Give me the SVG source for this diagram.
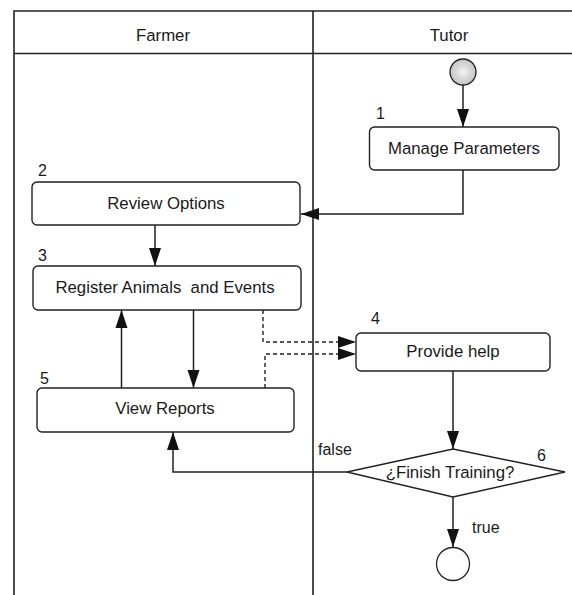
<svg xmlns="http://www.w3.org/2000/svg" width="572" height="595" viewBox="0 0 572 595">
  <style>
    .lane { fill: none; stroke: #222; stroke-width: 1.6; }
    .box { fill: #fff; stroke: #222; stroke-width: 1.4; }
    .edge { fill: none; stroke: #222; stroke-width: 1.5; }
    .dash { fill: none; stroke: #222; stroke-width: 1.4; stroke-dasharray: 4 3; }
    text { font-family: "Liberation Sans", Arial, sans-serif; fill: #1a1a1a; }
    .label { font-size: 16.8px; text-anchor: middle; white-space: pre; }
    .head { font-size: 16.8px; text-anchor: middle; }
    .num { font-size: 16px; }
    .guard { font-size: 16px; }
  </style>
  <defs>
    <marker id="arrow" viewBox="0 0 18 13" refX="18" refY="6.5" markerWidth="18" markerHeight="13" markerUnits="userSpaceOnUse" orient="auto">
      <path d="M0,0.5 L18,6.5 L0,12.5 Z" fill="#111"/>
    </marker>
    <radialGradient id="startFill" cx="0.5" cy="0.5" r="0.5">
      <stop offset="0" stop-color="#f2f2f2"/>
      <stop offset="1" stop-color="#c4c4c4"/>
    </radialGradient>
  </defs>

  <rect width="572" height="595" fill="#fff"/>

  <!-- swimlanes -->
  <g id="lanes">
    <path class="lane" d="M14,595 V11 H572 M14,53.5 H572 M313,11 V595"/>
    <text class="head" x="163" y="41">Farmer</text>
    <text class="head" x="449" y="41">Tutor</text>
  </g>

  <!-- connectors -->
  <g id="connectors">
    <path class="edge" d="M463,85 V127" marker-end="url(#arrow)"/>
    <path class="edge" d="M463,170 V214 H301" marker-end="url(#arrow)"/>
    <path class="edge" d="M155,225 V266" marker-end="url(#arrow)"/>
    <path class="edge" d="M121.5,388 V310" marker-end="url(#arrow)"/>
    <path class="edge" d="M193.5,310 V388" marker-end="url(#arrow)"/>
    <path class="dash" d="M263,310 V342 H356" marker-end="url(#arrow)"/>
    <path class="dash" d="M265,388 V354 H356" marker-end="url(#arrow)"/>
    <path class="edge" d="M453,371 V449" marker-end="url(#arrow)"/>
    <path class="edge" d="M347,472 H173 V432" marker-end="url(#arrow)"/>
    <path class="edge" d="M453,497 V547" marker-end="url(#arrow)"/>
    <text class="guard" x="318" y="455">false</text>
    <text class="guard" x="472" y="533">true</text>
  </g>

  <!-- initial node -->
  <g id="start">
    <circle cx="463" cy="72" r="13" fill="url(#startFill)" stroke="#222" stroke-width="1.3"/>
  </g>

  <g id="n1">
    <text class="num" x="376" y="119">1</text>
    <rect class="box" x="369.5" y="127" width="189.5" height="43" rx="5"/>
    <text class="label" x="464" y="154">Manage Parameters</text>
  </g>

  <g id="n2">
    <text class="num" x="38" y="176">2</text>
    <rect class="box" x="32" y="182" width="268" height="43" rx="5"/>
    <text class="label" x="166" y="209">Review Options</text>
  </g>

  <g id="n3">
    <text class="num" x="38" y="261">3</text>
    <rect class="box" x="33" y="266" width="268" height="44" rx="5"/>
    <text class="label" x="165" y="293">Register Animals  and Events</text>
  </g>

  <g id="n4">
    <text class="num" x="371" y="324">4</text>
    <rect class="box" x="356" y="333" width="194" height="38" rx="5"/>
    <text class="label" x="453" y="357">Provide help</text>
  </g>

  <g id="n5">
    <text class="num" x="40" y="384">5</text>
    <rect class="box" x="37" y="388" width="257" height="44" rx="5"/>
    <text class="label" x="165" y="414">View Reports</text>
  </g>

  <g id="n6">
    <path class="box" d="M453,449 L565,472 L453,497 L347,472 Z"/>
    <text class="label" x="450" y="477.5">¿Finish Training?</text>
    <text class="num" x="537" y="461">6</text>
  </g>

  <!-- final node -->
  <g id="end">
    <circle cx="453" cy="564" r="16.5" fill="#fff" stroke="#222" stroke-width="1.3"/>
  </g>
</svg>
